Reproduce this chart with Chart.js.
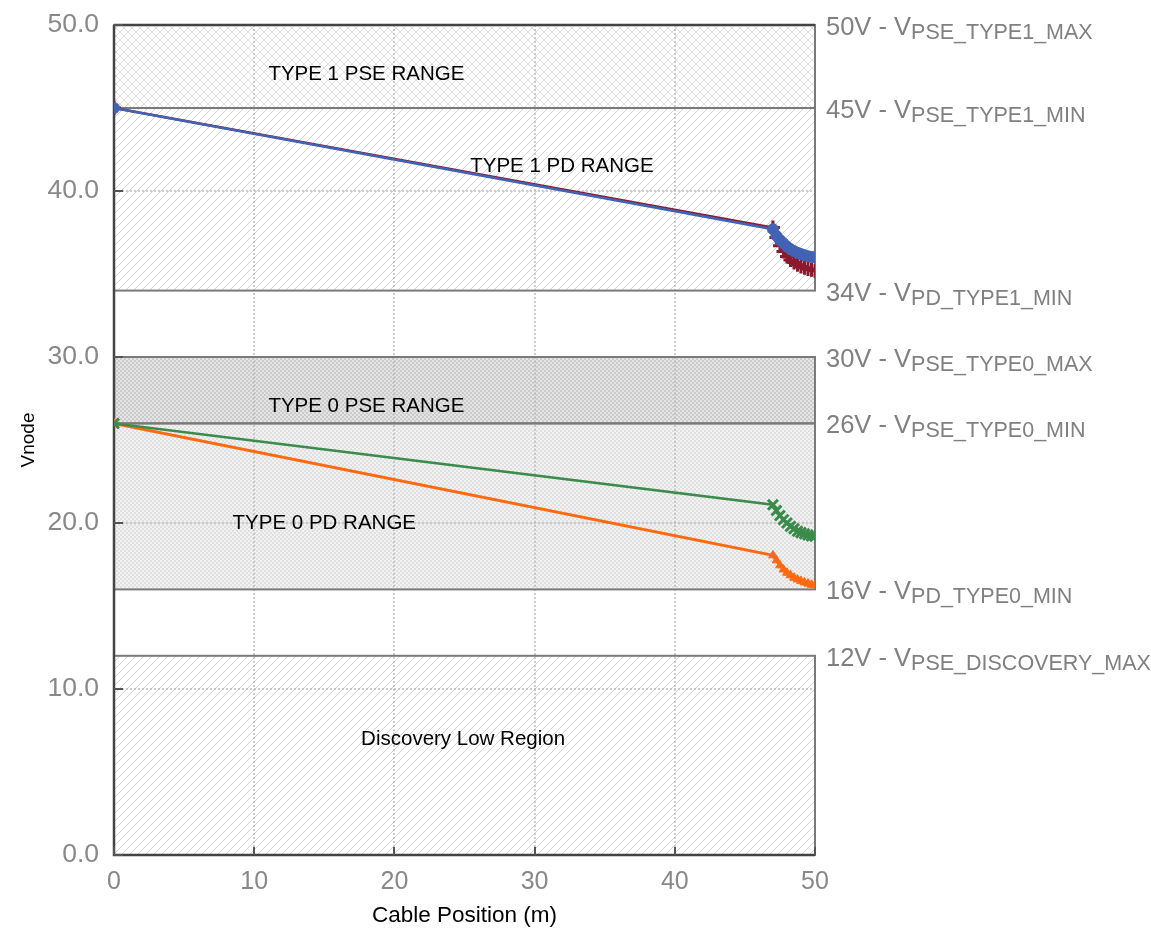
<!DOCTYPE html>
<html><head><meta charset="utf-8">
<script src="https://cdn.jsdelivr.net/npm/chart.js@4/dist/chart.umd.min.js"></script>
<style>html,body{margin:0;padding:0;background:#fff}#wrap{width:1151px;height:933px}</style>
</head><body><div id="wrap"><canvas id="c" width="1151" height="933"></canvas></div>
<script>
// ---- data ----
const cablePositions = [0, 47, 47.25, 47.5, 47.75, 48, 48.25, 48.5, 48.75, 49, 49.25, 49.5, 49.75, 50];
const vType1Blue   = [45, 37.7, 37.3, 37.05, 36.85, 36.65, 36.5, 36.38, 36.28, 36.2, 36.13, 36.07, 36.03, 36.0];
const vType1Red    = [45, 37.8, 37.2, 36.7, 36.35, 36.05, 35.85, 35.7, 35.55, 35.45, 35.37, 35.3, 35.25, 35.2];
const vType0Green  = [26, 21.1, 20.75, 20.45, 20.2, 20.0, 19.8, 19.65, 19.5, 19.42, 19.35, 19.28, 19.22, 19.2];
const vType0Orange = [26, 18.05, 17.75, 17.45, 17.2, 17.0, 16.85, 16.7, 16.6, 16.5, 16.42, 16.35, 16.28, 16.25];
const xTickValues = [0, 10, 20, 30, 40, 50];
const yTickValues = [0, 10, 20, 30, 40, 50];
const regionLow  = [45, 34, 26, 16, 0];
const regionHigh = [50, 45, 30, 26, 12];
const regionNames = ['TYPE 1 PSE RANGE', 'TYPE 1 PD RANGE', 'TYPE 0 PSE RANGE', 'TYPE 0 PD RANGE', 'Discovery Low Region'];
const regionNameX = [18, 31.95, 18, 15, 24.9];
const regionNameY = [47, 41.5, 27, 20, 6.95];
const thresholdValues = [50, 45, 34, 30, 26, 16, 12];
const thresholdMain = ['50V - V', '45V - V', '34V - V', '30V - V', '26V - V', '16V - V', '12V - V'];
const thresholdSub  = ['PSE_TYPE1_MAX', 'PSE_TYPE1_MIN', 'PD_TYPE1_MIN', 'PSE_TYPE0_MAX', 'PSE_TYPE0_MIN', 'PD_TYPE0_MIN', 'PSE_DISCOVERY_MAX'];

// ---- styles ----
const FAM = '"Liberation Sans", Arial, sans-serif';
Chart.defaults.font.family = FAM;
const regionStyle = ['cross', 'diag', 'dotDark', 'dotLight', 'diag'];

function makeTile(size, draw) {
  const c = document.createElement('canvas');
  c.width = size; c.height = size;
  const g = c.getContext('2d');
  draw(g, size);
  return c;
}
function diagTile(g, s, both, col) {
  g.fillStyle = '#fff'; g.fillRect(0, 0, s, s);
  g.strokeStyle = col; g.lineWidth = 1;
  g.beginPath();
  g.moveTo(-1, s + 1); g.lineTo(s + 1, -1);
  g.moveTo(-1, 1); g.lineTo(1, -1);
  g.moveTo(s - 1, s + 1); g.lineTo(s + 1, s - 1);
  if (both) {
    g.moveTo(-1, -1); g.lineTo(s + 1, s + 1);
    g.moveTo(s - 1, -1); g.lineTo(s + 1, 1);
    g.moveTo(-1, s - 1); g.lineTo(1, s + 1);
  }
  g.stroke();
}
function dotTile(g, s, base, dot) {
  g.fillStyle = base; g.fillRect(0, 0, s, s);
  g.fillStyle = dot;
  g.fillRect(0, 0, 2, 2);
  g.fillRect(2, 2, 2, 2);
}

const bgPlugin = {
  id: 'bg',
  beforeDatasetsDraw(chart) {
    const { ctx, chartArea: a, scales: { x, y } } = chart;
    const pats = {
      cross: ctx.createPattern(makeTile(8, (g, s) => diagTile(g, s, true, '#dedede')), 'repeat'),
      diag: ctx.createPattern(makeTile(8, (g, s) => diagTile(g, s, false, '#d2d2d2')), 'repeat'),
      dotDark: ctx.createPattern(makeTile(4, (g, s) => dotTile(g, s, '#cbcbcb', '#e4e4e4')), 'repeat'),
      dotLight: ctx.createPattern(makeTile(4, (g, s) => dotTile(g, s, '#e0e0e0', '#f2f2f2')), 'repeat')
    };
    ctx.save();
    for (let i = 0; i < regionLow.length; i++) {
      const t = y.getPixelForValue(regionHigh[i]), b = y.getPixelForValue(regionLow[i]);
      ctx.fillStyle = pats[regionStyle[i]];
      ctx.fillRect(a.left, t, a.right - a.left, b - t);
    }
    // dotted grid
    ctx.strokeStyle = '#bdbdbd'; ctx.lineWidth = 1.5; ctx.setLineDash([2, 2]);
    ctx.beginPath();
    x.ticks.forEach(tk => {
      if (tk.value > x.min && tk.value < x.max) {
        const px = Math.round(x.getPixelForValue(tk.value));
        ctx.moveTo(px, a.top); ctx.lineTo(px, a.bottom);
      }
    });
    y.ticks.forEach(tk => {
      if (tk.value > y.min && tk.value < y.max) {
        const py = Math.round(y.getPixelForValue(tk.value));
        ctx.moveTo(a.left, py); ctx.lineTo(a.right, py);
      }
    });
    ctx.stroke();
    ctx.setLineDash([]);
    // region borders
    ctx.strokeStyle = '#7a7a7a'; ctx.lineWidth = 2;
    for (let i = 0; i < regionLow.length; i++) {
      const t = y.getPixelForValue(regionHigh[i]), b = y.getPixelForValue(regionLow[i]);
      ctx.strokeRect(a.left, t, a.right - a.left, b - t);
    }
    // axes
    ctx.strokeStyle = '#444'; ctx.lineWidth = 2.5;
    ctx.beginPath();
    ctx.moveTo(a.left, a.top); ctx.lineTo(a.left, a.bottom); ctx.lineTo(a.right, a.bottom);
    ctx.moveTo(a.left, a.top); ctx.lineTo(a.right, a.top);
    ctx.stroke();
    // inner tick marks
    ctx.strokeStyle = '#555'; ctx.lineWidth = 2;
    ctx.beginPath();
    x.ticks.forEach(tk => {
      const px = Math.round(x.getPixelForValue(tk.value));
      ctx.moveTo(px, a.bottom); ctx.lineTo(px, a.bottom - 8);
    });
    y.ticks.forEach(tk => {
      const py = Math.round(y.getPixelForValue(tk.value));
      ctx.moveTo(a.left, py); ctx.lineTo(a.left + 9, py);
    });
    ctx.stroke();
    ctx.restore();
  },
  afterDraw(chart) {
    const { ctx, chartArea: a, scales: { x, y } } = chart;
    ctx.save();
    ctx.fillStyle = '#000';
    ctx.font = '20.5px ' + FAM;
    ctx.textAlign = 'center'; ctx.textBaseline = 'middle';
    regionNames.forEach((n, i) => {
      ctx.fillText(n, x.getPixelForValue(regionNameX[i]), y.getPixelForValue(regionNameY[i]));
    });
    ctx.textAlign = 'left'; ctx.textBaseline = 'alphabetic';
    ctx.fillStyle = '#808080';
    const x0 = a.right + 11;
    thresholdValues.forEach((v, i) => {
      const py = y.getPixelForValue(v);
      ctx.font = '25.5px ' + FAM;
      ctx.fillText(thresholdMain[i], x0, py + 10);
      const w = ctx.measureText(thresholdMain[i]).width;
      ctx.font = '21.5px ' + FAM;
      ctx.fillText(thresholdSub[i], x0 + w, py + 14);
    });
    ctx.restore();
  }
};

function pts(ys) { return cablePositions.map((xv, i) => ({ x: xv, y: ys[i] })); }

new Chart(document.getElementById('c'), {
  type: 'line',
  data: {
    datasets: [
      { label: 'Type1 A', data: pts(vType1Blue), borderColor: '#4262b4', backgroundColor: '#4262b4', borderWidth: 2.5, pointStyle: 'circle', pointRadius: 5.5, pointBorderWidth: 1, tension: 0 },
      { label: 'Type1 B', data: pts(vType1Red), borderColor: '#8b1a2e', backgroundColor: '#8b1a2e', borderWidth: 2.5, pointStyle: 'cross', pointRadius: 7, pointBorderWidth: 3, tension: 0 },
      { label: 'Type0 A', data: pts(vType0Green), borderColor: '#3a8b4c', backgroundColor: '#3a8b4c', borderWidth: 2.5, pointStyle: 'crossRot', pointRadius: 7, pointBorderWidth: 3, tension: 0 },
      { label: 'Type0 B', data: pts(vType0Orange), borderColor: '#ff6a10', backgroundColor: '#ff6a10', borderWidth: 3, pointStyle: 'triangle', pointRadius: 5, pointBorderWidth: 1, tension: 0 }
    ]
  },
  options: {
    responsive: false, animation: false, devicePixelRatio: 1,
    layout: { padding: { left: 0, top: 25, right: 336, bottom: 0 } },
    plugins: { legend: { display: false }, tooltip: { enabled: false } },
    scales: {
      x: {
        type: 'linear', min: 0, max: 50,
        afterBuildTicks: s => { s.ticks = xTickValues.map(v => ({ value: v })); },
        grid: { display: false }, border: { display: false },
        ticks: { color: '#888', font: { size: 25 }, padding: 4, maxRotation: 0, autoSkip: false },
        title: { display: true, text: 'Cable Position (m)', color: '#000', font: { size: 22.5 }, padding: { top: 0, bottom: 4 } },
        afterFit: s => { s.height = 78; s.paddingLeft = 0; s.paddingRight = 0; }
      },
      y: {
        type: 'linear', min: 0, max: 50,
        afterBuildTicks: s => { s.ticks = yTickValues.map(v => ({ value: v })); },
        grid: { display: false }, border: { display: false },
        ticks: { color: '#888', font: { size: 26.5 }, padding: 7, callback: v => Number(v).toFixed(1) },
        title: { display: true, text: 'Vnode', color: '#000', font: { size: 19 }, padding: { top: 17, bottom: 0 } },
        afterFit: s => { s.width = 114; s.paddingTop = 0; s.paddingBottom = 0; }
      }
    }
  },
  plugins: [bgPlugin]
});
</script></body></html>
